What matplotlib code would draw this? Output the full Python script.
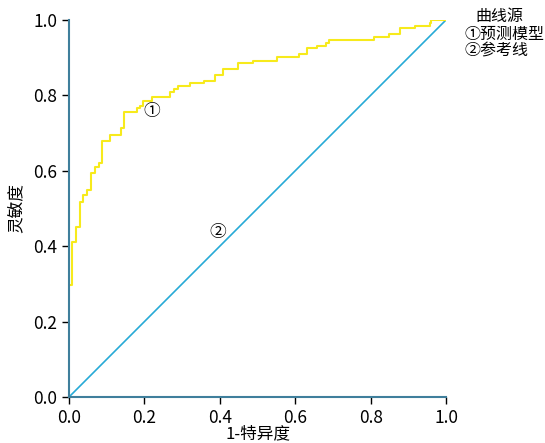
import matplotlib
matplotlib.use("Agg")
import matplotlib.pyplot as plt

plt.rcParams['font.family'] = ['Noto Sans CJK SC', 'DejaVu Sans']

# ROC step curve (1-specificity, sensitivity)
fpr = [0.005, 0.009, 0.018, 0.029, 0.038, 0.047, 0.058, 0.069, 0.080, 0.088,
       0.109, 0.138, 0.147, 0.180, 0.188, 0.197, 0.219, 0.268, 0.279, 0.290,
       0.321, 0.359, 0.387, 0.409, 0.449, 0.489, 0.551, 0.610, 0.631, 0.659,
       0.682, 0.690, 0.809, 0.850, 0.878, 0.918, 0.958, 0.960, 1.0]
tpr = [0.297, 0.412, 0.452, 0.518, 0.536, 0.549, 0.595, 0.611, 0.620, 0.680,
       0.695, 0.713, 0.757, 0.766, 0.772, 0.786, 0.795, 0.810, 0.817, 0.825,
       0.832, 0.839, 0.854, 0.870, 0.887, 0.892, 0.901, 0.909, 0.925, 0.932,
       0.940, 0.947, 0.954, 0.963, 0.978, 0.985, 0.993, 1.0, 1.0]
ref_x = [0.0, 1.0]
ref_y = [0.0, 1.0]
ticks = [0.0, 0.2, 0.4, 0.6, 0.8, 1.0]
tick_labels = ['0.0', '0.2', '0.4', '0.6', '0.8', '1.0']

fig = plt.figure(figsize=(5.45, 4.43), dpi=100)
ax = fig.add_axes([0.1266, 0.1038, 0.6918, 0.8512])

ax.step(fpr, tpr, where='post', color='#f7ea1c', lw=1.5, zorder=3)
ax.plot(ref_x, ref_y, color='#27aad6', lw=1.2, zorder=2)

ax.text(0.22, 0.757, '①', fontsize=12, ha='center', va='center')
ax.text(0.395, 0.435, '②', fontsize=12, ha='center', va='center')

ax.set_xlim(0, 1)
ax.set_ylim(0, 1)
ax.set_xticks(ticks)
ax.set_xticklabels(tick_labels)
ax.set_yticks(ticks)
ax.set_yticklabels(tick_labels)
ax.tick_params(direction='out', length=5, width=1, labelsize=12.5, color='black')

for side in ['top', 'right']:
    ax.spines[side].set_visible(False)
for side in ['left', 'bottom']:
    ax.spines[side].set_color('#3f7f9c')
    ax.spines[side].set_linewidth(1.5)
    ax.spines[side].set_zorder(4)

ax.set_xlabel('1-特异度', fontsize=12, labelpad=-1)
ax.set_ylabel('灵敏度', fontsize=12, labelpad=6)

# legend block
fig.text(0.917, 0.982, '曲线源', fontsize=11.5, ha='center', va='top')
fig.text(0.853, 0.942, '①预测模型', fontsize=11.5, ha='left', va='top')
fig.text(0.853, 0.903, '②参考线', fontsize=11.5, ha='left', va='top')

fig.savefig('out.png', dpi=100)
